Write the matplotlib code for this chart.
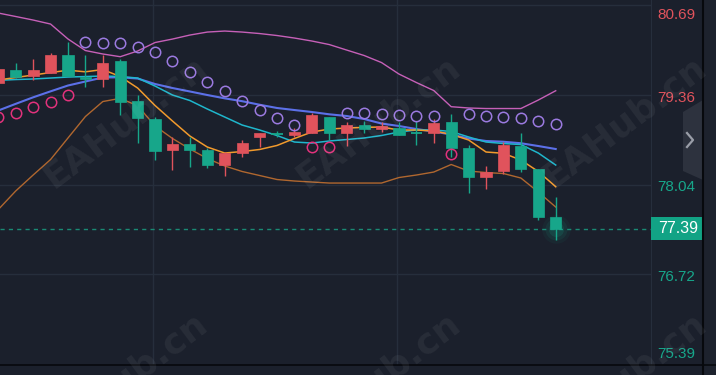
import matplotlib
matplotlib.use("Agg")
import matplotlib.pyplot as plt
from matplotlib.patches import Rectangle, Polygon
from matplotlib.lines import Line2D
import numpy as np

# candles (red = up, green = down)
opens = [79.537, 79.728, 79.644, 79.688, 79.949, 79.629, 79.591, 79.860, 79.272, 79.007, 78.550,
         78.639, 78.550, 78.329, 78.502, 78.737, 78.790, 78.771, 78.805, 79.041, 78.796, 78.918,
         78.855, 78.879, 78.800, 78.796, 78.967, 78.584, 78.148, 78.241, 78.614, 78.271, 77.568]
highs = [79.790, 79.827, 79.890, 79.983, 80.145, 79.949, 79.949, 79.886, 79.360, 79.041, 78.742,
         78.746, 78.584, 78.526, 78.698, 78.800, 78.834, 78.879, 79.099, 79.041, 78.958, 78.982,
         78.958, 78.967, 78.982, 79.002, 79.080, 78.624, 78.319, 78.664, 78.796, 78.271, 77.863]
lows = [79.490, 79.610, 79.581, 79.679, 79.640, 79.473, 79.473, 79.066, 78.658, 78.403, 78.256,
        78.304, 78.281, 78.168, 78.452, 78.599, 78.737, 78.737, 78.805, 78.698, 78.609, 78.796,
        78.820, 78.771, 78.624, 78.658, 78.452, 77.913, 77.972, 78.197, 78.231, 77.520, 77.225]
closes = [79.743, 79.629, 79.728, 79.949, 79.640, 79.596, 79.836, 79.250, 79.021, 78.536, 78.639,
          78.550, 78.329, 78.511, 78.658, 78.796, 78.782, 78.820, 79.066, 78.796, 78.918, 78.855,
          78.904, 78.771, 78.792, 78.952, 78.584, 78.148, 78.231, 78.624, 78.271, 77.568, 77.390]

# parabolic SAR dots
sar = [79.036, 79.099, 79.183, 79.261, 79.360, 80.145, 80.130, 80.121, 80.071, 79.989, 79.861,
       79.703, 79.556, 79.423, 79.276, 79.139, 79.026, 78.918, 78.599, 78.599, 79.091, 79.091,
       79.076, 79.066, 79.055, 79.051, 78.487, 79.080, 79.055, 79.032, 79.017, 78.977, 78.929]

# bollinger bands
boll_up = [80.567, 80.516, 80.464, 80.405, 80.185, 80.015, 79.964, 79.924, 80.008, 80.133, 80.184,
           80.243, 80.287, 80.302, 80.287, 80.265, 80.236, 80.199, 80.155, 80.103, 80.022, 79.942,
           79.838, 79.669, 79.544, 79.426, 79.188, 79.169, 79.161, 79.161, 79.161, 79.286, 79.423]
boll_mid = [79.132, 79.230, 79.326, 79.414, 79.500, 79.559, 79.618, 79.621, 79.603, 79.522, 79.463,
            79.412, 79.360, 79.311, 79.269, 79.217, 79.169, 79.139, 79.110, 79.076, 79.051, 79.007,
            78.940, 78.904, 78.859, 78.823, 78.778, 78.720, 78.683, 78.672, 78.650, 78.609, 78.565]
boll_low = [77.674, 77.947, 78.182, 78.410, 78.727, 79.043, 79.264, 79.311, 79.202, 78.904, 78.720,
            78.565, 78.425, 78.315, 78.234, 78.175, 78.116, 78.094, 78.079, 78.064, 78.064, 78.064,
            78.064, 78.145, 78.182, 78.226, 78.337, 78.241, 78.219, 78.204, 78.138, 77.932, 77.711]

# moving averages
ma_cyan = [79.576, 79.588, 79.596, 79.610, 79.625, 79.632, 79.640, 79.632, 79.610, 79.492, 79.360,
           79.279, 79.154, 79.036, 78.918, 78.845, 78.764, 78.668, 78.653, 78.683, 78.705, 78.727,
           78.764, 78.815, 78.845, 78.845, 78.823, 78.742, 78.668, 78.646, 78.631, 78.506, 78.329]
ma_orange = [79.581, 79.618, 79.654, 79.691, 79.725, 79.702, 79.735, 79.632, 79.463, 79.205, 78.977,
             78.756, 78.594, 78.506, 78.528, 78.558, 78.617, 78.720, 78.815, 78.859, 78.874, 78.884,
             78.889, 78.845, 78.845, 78.830, 78.781, 78.698, 78.521, 78.502, 78.403, 78.234, 78.010]

price_ticks = [80.69, 79.36, 78.04, 76.72, 75.39]
tick_colors = ["#e0535c", "#e0535c", "#17a68a", "#17a68a", "#17a68a"]
tick_offsets = [-10.5, -2.5, -2.5, -2.5, 11]
time_grid = [8.9, 22.9]

BG = "#1b202c"
GRID = "#262e3c"
UP = "#e0535c"
DOWN = "#17a68a"
W, H = 716, 375

fig = plt.figure(figsize=(W / 100, H / 100), dpi=100, facecolor=BG)
ax = fig.add_axes([0, 10 / H, 651 / W, 365 / H], facecolor=BG)

x = np.arange(len(closes))

for p in price_ticks[:-1]:
    ax.axhline(p, color=GRID, lw=1, zorder=1)
for t in time_grid:
    ax.axvline(t, color=GRID, lw=1, zorder=1)

ax.plot(x, boll_up, color="#c660b8", lw=1.0, zorder=2)
ax.plot(x, boll_low, color="#b0672f", lw=1.0, zorder=2)
ax.plot(x, boll_mid, color="#5c70e8", lw=1.5, zorder=2)
ax.plot(x, ma_cyan, color="#1fb6cc", lw=1.1, zorder=2)
ax.plot(x, ma_orange, color="#f19a2c", lw=1.1, zorder=2)

# last price glow + dashed line
ax.axhline(closes[-1], color="#1a8a74", lw=1, ls=(0, (3, 3)), zorder=1)
for s, a in [(420, 0.05), (250, 0.08), (120, 0.12)]:
    ax.scatter([x[-1]], [closes[-1]], s=s, color="#17c49e", alpha=a, lw=0, zorder=3)

# candles
for i in range(len(closes)):
    o, h, l, c = opens[i], highs[i], lows[i], closes[i]
    col = UP if c >= o else DOWN
    ax.vlines(x[i], l, h, color=col, lw=1.0, zorder=4)
    lo, hi = min(o, c), max(o, c)
    if hi - lo < 0.015:
        ax.hlines((o + c) / 2, x[i] - 0.32, x[i] + 0.32, color=col, lw=1.3, zorder=4)
    else:
        ax.add_patch(Rectangle((x[i] - 0.32, lo), 0.64, hi - lo, facecolor=col,
                               edgecolor=col, lw=0.5, zorder=4))

# SAR circles
sar = np.array(sar)
above = sar > np.array(highs)
ax.plot(x[above], sar[above], "o", ms=7.5, mfc="none", mec="#9b7ae0", mew=1.1, zorder=5)
ax.plot(x[~above], sar[~above], "o", ms=7.5, mfc="none", mec="#e2327c", mew=1.1, zorder=5)

ax.set_xlim(0.098, 37.47)
ax.set_ylim(75.385, 80.759)
ax.set_xticks([])
ax.set_yticks([])
for side in ["top", "left", "bottom"]:
    ax.spines[side].set_visible(False)
ax.spines["right"].set_color(GRID)

# price scale labels
for p, col, dy in zip(price_ticks, tick_colors, tick_offsets):
    ax.annotate(f"{p:.2f}", xy=(1, p), xycoords=("axes fraction", "data"),
                xytext=(6, dy), textcoords="offset pixels", color=col, fontsize=11,
                family="Liberation Sans", va="center", ha="left", annotation_clip=False)

# current price box
k = (80.759 - 75.385) / 365
ax.add_patch(Rectangle((1.0, closes[-1] - 11.5 * k), 52 / 651, 23 * k,
                       transform=ax.get_yaxis_transform(), facecolor="#12a385",
                       edgecolor="none", clip_on=False, zorder=6))
ax.annotate(f"{closes[-1]:.2f}", xy=(1, closes[-1]), xycoords=("axes fraction", "data"),
            xytext=(7, 0), textcoords="offset pixels", color="white", fontsize=11.5,
            family="Liberation Sans", va="center", ha="left", annotation_clip=False, zorder=7)

# frame details: bottom line, right strip, collapse tab
fig.add_artist(Line2D([0, 1], [10 / H, 10 / H], color="#07090d", lw=1.2))
fig.add_artist(Line2D([703 / W, 703 / W], [0, 1], color="#07090d", lw=1.5))
fig.add_artist(Rectangle((704 / W, 0), 12 / W, 1, transform=fig.transFigure,
                         facecolor="#1d222d", edgecolor="none"))
tab = [(683, 112), (703, 100), (703, 180), (683, 171)]
fig.add_artist(Polygon([(px / W, 1 - py / H) for px, py in tab], closed=True,
                       transform=fig.transFigure, facecolor="#2d323e", edgecolor="none"))
fig.add_artist(Line2D([687 / W, 693 / W, 687 / W], [1 - 133 / H, 1 - 140 / H, 1 - 147 / H],
                      color="#9a9ea8", lw=1.6))

# watermark, drawn over everything like the site stamp
for cx, cy in [(125, 122), (378, 122), (624, 122), (125, 378), (378, 378), (624, 378)]:
    fig.text(cx / W, 1 - cy / H, "EAHub.cn", fontsize=26, fontweight="bold", color="white",
             alpha=0.06, rotation=37, ha="center", va="center", zorder=10)

fig.savefig("out.png", dpi=100, facecolor=BG)
